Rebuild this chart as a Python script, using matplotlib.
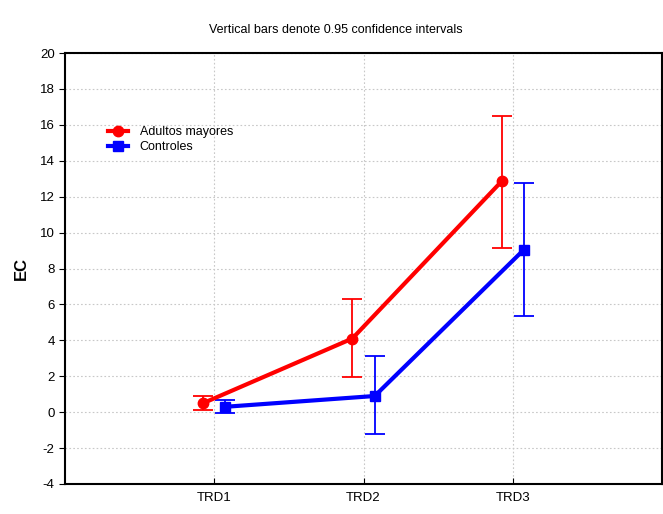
import matplotlib
matplotlib.use("Agg")
import matplotlib.pyplot as plt
import numpy as np

plt.rcParams['font.family'] = ['Liberation Sans', 'DejaVu Sans']
plt.rcParams['axes.unicode_minus'] = False

categories = ["TRD1", "TRD2", "TRD3"]
adultos_mean = [0.5, 4.1, 12.85]
adultos_low = [0.1, 1.95, 9.15]
adultos_high = [0.9, 6.3, 16.5]
control_mean = [0.3, 0.9, 9.05]
control_low = [-0.05, -1.2, 5.35]
control_high = [0.7, 3.1, 12.75]

fig = plt.figure(figsize=(6.63, 5.14), dpi=100)
ax = fig.add_axes([65/663, 30/514, 597/663, 431/514])

x = np.arange(1, len(categories) + 1)
off = 0.075

def draw(xs, mean, low, high, color, marker, label, ms):
    mean = np.array(mean); low = np.array(low); high = np.array(high)
    ax.errorbar(xs, mean, yerr=[mean - low, high - mean], fmt='none',
                ecolor=color, elinewidth=1.3, capsize=7, capthick=1.3, zorder=3)
    ax.plot(xs, mean, color=color, lw=3, marker=marker, ms=ms, label=label, zorder=4)

draw(x - off, adultos_mean, adultos_low, adultos_high, '#ff0000', 'o', 'Adultos mayores', 7.5)
draw(x + off, control_mean, control_low, control_high, '#0000ff', 's', 'Controles', 7.5)

ax.set_xlim(0, 4)
ax.set_ylim(-4, 20)
ax.set_xticks(x)
ax.set_xticklabels(categories)
ax.set_yticks(np.arange(-4, 21, 2))
ax.grid(True, color='#c8c8c8', linestyle=(0, (1.5, 2)), linewidth=0.8)
ax.tick_params(axis='y', direction='out', labelsize=9.5, length=4, right=True)
ax.tick_params(axis='x', direction='in', labelsize=9.5, length=4, pad=6)
for s in ax.spines.values():
    s.set_linewidth(1.5)
ax.set_ylabel("EC", fontsize=12, fontweight='bold', labelpad=8)
fig.text(336/663, 1 - 30/514, "Vertical bars denote 0.95 confidence intervals",
         ha='center', va='center', fontsize=9)
leg = ax.legend(loc='upper left', bbox_to_anchor=(0.062, 0.845), frameon=False,
                fontsize=9, handlelength=1.6, labelspacing=0.25, borderpad=0, handletextpad=0.9)
fig.savefig("out.png", dpi=100)
